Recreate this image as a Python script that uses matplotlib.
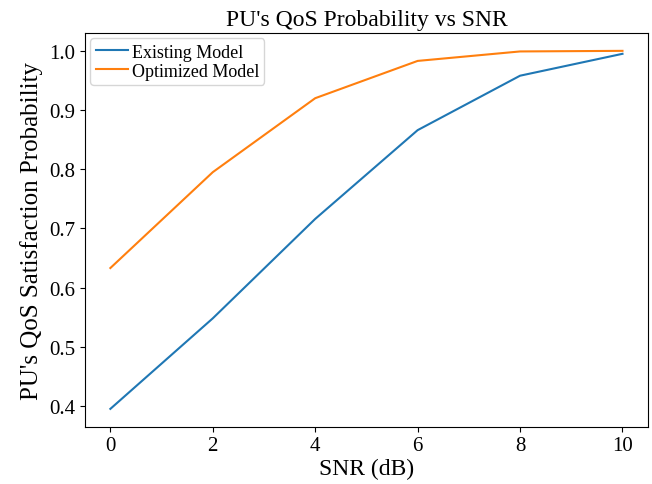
import matplotlib
matplotlib.use("Agg")
import matplotlib.pyplot as plt

snr_db = [0, 2, 4, 6, 8, 10]
existing_model = [0.395, 0.548, 0.716, 0.866, 0.958, 0.995]
optimized_model = [0.633, 0.795, 0.920, 0.983, 0.999, 1.000]

plt.rcParams['font.family'] = ['Liberation Serif', 'DejaVu Serif']
plt.rcParams['font.size'] = 16

fig, ax = plt.subplots(figsize=(6.52, 4.85), dpi=100)
ax.plot(snr_db, existing_model, label='Existing Model')
ax.plot(snr_db, optimized_model, label='Optimized Model')
ax.set_title("PU's QoS Probability vs SNR", fontsize=17)
ax.set_xlabel('SNR (dB)', fontsize=17, labelpad=2)
ax.set_ylabel("PU's QoS Satisfaction Probability", fontsize=18)
ax.set_xticks(snr_db)
ax.tick_params(labelsize=15)
ax.legend(loc='upper left', fontsize=13, borderpad=0.3, labelspacing=0.1,
          handlelength=1.8, handletextpad=0.2, borderaxespad=0.3)
fig.subplots_adjust(left=0.130, right=0.994, top=0.930, bottom=0.118)
plt.savefig('out.png')
